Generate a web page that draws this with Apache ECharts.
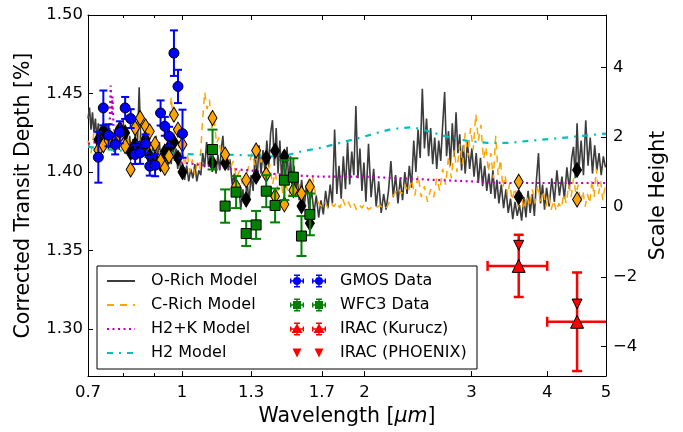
<!DOCTYPE html>
<html>
<head>
<meta charset="utf-8">
<script src="https://cdn.jsdelivr.net/npm/echarts@6/dist/echarts.min.js"></script>
<style>
  html, body { margin: 0; padding: 0; background: #fff; }
  #chart { width: 683px; height: 432px; }
</style>
</head>
<body>
<div id="chart"></div>
<script>
var FONT = 'DejaVu Sans';

// axis ticks
var xTicks = [0.7, 1, 1.3, 1.7, 2, 3, 4, 5];
var xMinorTicks = [0.8, 0.9];
var depthTicks = [1.30, 1.35, 1.40, 1.45, 1.50];
var heightTicks = [-4, -2, 0, 2, 4];

// model spectra [wavelength um, transit depth %]
var oRichModel = [
  [0.700,1.434],[0.704,1.441],[0.708,1.427],[0.712,1.438],[0.716,1.425],[0.720,1.434],[0.724,1.421],[0.728,1.431],[0.732,1.418],[0.736,1.428],
  [0.740,1.415],[0.744,1.426],[0.748,1.417],[0.752,1.430],[0.756,1.419],[0.760,1.428],[0.764,1.415],[0.768,1.424],[0.772,1.413],[0.776,1.427],
  [0.780,1.416],[0.784,1.425],[0.788,1.414],[0.792,1.430],[0.796,1.420],[0.800,1.433],[0.805,1.418],[0.810,1.427],[0.815,1.413],[0.820,1.423],
  [0.825,1.410],[0.830,1.421],[0.835,1.414],[0.840,1.432],[0.845,1.420],[0.850,1.454],[0.855,1.422],[0.860,1.412],[0.865,1.425],[0.870,1.409],
  [0.875,1.421],[0.880,1.407],[0.885,1.419],[0.890,1.405],[0.895,1.417],[0.900,1.409],[0.906,1.423],[0.912,1.406],[0.918,1.419],[0.924,1.403],
  [0.930,1.415],[0.936,1.400],[0.942,1.412],[0.948,1.404],[0.954,1.418],[0.960,1.405],[0.966,1.420],[0.972,1.407],[0.978,1.415],[0.984,1.402],
  [0.990,1.410],[0.996,1.398],[1.002,1.406],[1.010,1.395],[1.018,1.404],[1.026,1.394],[1.034,1.402],[1.042,1.396],[1.050,1.405],[1.058,1.394],
  [1.066,1.401],[1.074,1.398],[1.082,1.412],[1.090,1.403],[1.098,1.419],[1.106,1.404],[1.114,1.412],[1.122,1.400],[1.130,1.409],[1.138,1.399],
  [1.146,1.411],[1.154,1.401],[1.162,1.416],[1.168,1.423],[1.176,1.405],[1.184,1.414],[1.192,1.401],[1.200,1.408],[1.210,1.392],[1.220,1.399],
  [1.230,1.383],[1.240,1.393],[1.250,1.376],[1.260,1.389],[1.270,1.379],[1.280,1.394],[1.290,1.381],[1.300,1.398],[1.310,1.388],[1.320,1.412],
  [1.330,1.396],[1.340,1.417],[1.350,1.399],[1.360,1.414],[1.370,1.401],[1.380,1.420],[1.390,1.403],[1.400,1.425],[1.410,1.433],[1.420,1.404],
  [1.430,1.428],[1.440,1.399],[1.450,1.420],[1.460,1.395],[1.470,1.412],[1.480,1.390],[1.490,1.416],[1.500,1.392],[1.510,1.410],[1.520,1.386],
  [1.530,1.404],[1.540,1.384],[1.550,1.400],[1.560,1.382],[1.575,1.395],[1.590,1.378],[1.605,1.392],[1.620,1.376],[1.635,1.389],[1.650,1.374],
  [1.665,1.385],[1.680,1.371],[1.695,1.382],[1.710,1.373],[1.725,1.388],[1.740,1.377],[1.755,1.392],[1.770,1.380],[1.785,1.427],[1.800,1.386],
  [1.815,1.404],[1.830,1.383],[1.845,1.410],[1.860,1.389],[1.875,1.419],[1.890,1.392],[1.905,1.413],[1.920,1.398],[1.935,1.442],[1.950,1.396],
  [1.965,1.415],[1.980,1.388],[1.995,1.406],[2.010,1.381],[2.030,1.418],[2.050,1.384],[2.070,1.402],[2.090,1.378],[2.110,1.394],[2.130,1.374],
  [2.150,1.386],[2.170,1.376],[2.190,1.388],[2.210,1.407],[2.230,1.384],[2.250,1.398],[2.270,1.380],[2.290,1.396],[2.310,1.382],[2.330,1.400],
  [2.350,1.386],[2.370,1.404],[2.390,1.390],[2.410,1.420],[2.430,1.400],[2.450,1.427],[2.470,1.409],[2.490,1.453],[2.510,1.415],[2.530,1.434],
  [2.550,1.410],[2.570,1.428],[2.590,1.405],[2.610,1.422],[2.630,1.402],[2.650,1.420],[2.670,1.407],[2.690,1.430],[2.710,1.451],[2.730,1.410],
  [2.750,1.426],[2.770,1.404],[2.790,1.431],[2.810,1.410],[2.830,1.438],[2.850,1.412],[2.870,1.424],[2.890,1.401],[2.910,1.417],[2.930,1.399],
  [2.955,1.419],[2.980,1.402],[3.005,1.415],[3.030,1.397],[3.055,1.412],[3.080,1.393],[3.105,1.409],[3.130,1.391],[3.155,1.404],[3.180,1.388],
  [3.205,1.399],[3.230,1.386],[3.255,1.401],[3.280,1.383],[3.305,1.395],[3.330,1.380],[3.360,1.392],[3.390,1.377],[3.420,1.389],[3.450,1.374],
  [3.480,1.383],[3.510,1.370],[3.540,1.381],[3.570,1.372],[3.600,1.379],[3.630,1.369],[3.660,1.384],[3.690,1.371],[3.720,1.388],[3.750,1.374],
  [3.780,1.386],[3.810,1.372],[3.840,1.395],[3.870,1.412],[3.900,1.380],[3.930,1.392],[3.960,1.376],[3.990,1.390],[4.030,1.378],[4.070,1.396],
  [4.110,1.381],[4.150,1.401],[4.190,1.385],[4.230,1.397],[4.270,1.383],[4.310,1.403],[4.350,1.389],[4.390,1.409],[4.420,1.416],[4.450,1.396],
  [4.480,1.431],[4.510,1.401],[4.550,1.420],[4.590,1.398],[4.630,1.433],[4.670,1.404],[4.710,1.422],[4.750,1.399],[4.790,1.417],[4.830,1.401],
  [4.870,1.412],[4.910,1.398],[4.950,1.410],[4.990,1.403]
];

var cRichModel = [
  [0.700,1.420],[0.708,1.412],[0.716,1.425],[0.724,1.416],[0.732,1.428],[0.740,1.418],[0.748,1.424],[0.756,1.414],[0.764,1.426],[0.772,1.418],
  [0.780,1.430],[0.788,1.420],[0.796,1.432],[0.804,1.418],[0.812,1.425],[0.820,1.412],[0.828,1.420],[0.836,1.410],[0.844,1.432],[0.852,1.420],
  [0.860,1.416],[0.868,1.426],[0.876,1.414],[0.884,1.422],[0.892,1.410],[0.900,1.418],[0.910,1.406],[0.920,1.414],[0.930,1.402],[0.940,1.412],
  [0.950,1.425],[0.960,1.448],[0.968,1.430],[0.976,1.418],[0.984,1.426],[0.992,1.410],[1.000,1.418],[1.010,1.404],[1.020,1.412],[1.030,1.400],
  [1.040,1.408],[1.050,1.398],[1.060,1.406],[1.070,1.402],[1.080,1.430],[1.090,1.451],[1.100,1.440],[1.110,1.446],[1.120,1.428],[1.130,1.434],
  [1.140,1.418],[1.150,1.422],[1.160,1.410],[1.170,1.416],[1.180,1.406],[1.190,1.412],[1.200,1.402],[1.215,1.407],[1.230,1.396],[1.245,1.401],
  [1.260,1.390],[1.275,1.396],[1.290,1.405],[1.305,1.412],[1.320,1.404],[1.335,1.416],[1.350,1.406],[1.365,1.411],[1.380,1.398],[1.395,1.405],
  [1.410,1.392],[1.425,1.400],[1.440,1.388],[1.455,1.396],[1.470,1.383],[1.485,1.392],[1.500,1.384],[1.520,1.394],[1.540,1.386],[1.560,1.392],
  [1.580,1.384],[1.600,1.390],[1.620,1.396],[1.640,1.398],[1.660,1.386],[1.680,1.380],[1.700,1.378],[1.720,1.381],[1.740,1.377],[1.760,1.380],
  [1.780,1.378],[1.800,1.381],[1.820,1.377],[1.840,1.383],[1.860,1.378],[1.880,1.381],[1.900,1.377],[1.920,1.380],[1.940,1.376],[1.960,1.379],
  [1.980,1.377],[2.000,1.380],[2.030,1.376],[2.060,1.378],[2.090,1.377],[2.120,1.379],[2.150,1.376],[2.180,1.378],[2.210,1.383],[2.240,1.386],
  [2.270,1.390],[2.300,1.386],[2.330,1.392],[2.360,1.387],[2.390,1.395],[2.420,1.385],[2.450,1.398],[2.480,1.384],[2.510,1.391],[2.540,1.381],
  [2.570,1.389],[2.600,1.384],[2.630,1.396],[2.660,1.388],[2.690,1.402],[2.720,1.392],[2.750,1.410],[2.780,1.396],[2.810,1.414],[2.840,1.400],
  [2.870,1.418],[2.900,1.405],[2.930,1.425],[2.960,1.410],[2.990,1.428],[3.020,1.414],[3.050,1.437],[3.080,1.420],[3.110,1.430],[3.140,1.408],
  [3.170,1.416],[3.200,1.400],[3.230,1.412],[3.260,1.396],[3.290,1.423],[3.320,1.398],[3.350,1.408],[3.380,1.390],[3.410,1.398],[3.440,1.385],
  [3.470,1.393],[3.500,1.382],[3.540,1.390],[3.580,1.378],[3.620,1.387],[3.660,1.376],[3.700,1.385],[3.740,1.378],[3.780,1.389],[3.820,1.380],
  [3.860,1.392],[3.900,1.381],[3.940,1.388],[3.980,1.378],[4.020,1.385],[4.060,1.376],[4.100,1.382],[4.140,1.375],[4.180,1.380],[4.220,1.377],
  [4.260,1.386],[4.300,1.380],[4.340,1.392],[4.380,1.384],[4.420,1.396],[4.460,1.386],[4.500,1.392],[4.540,1.380],[4.580,1.388],[4.620,1.378],
  [4.660,1.386],[4.700,1.380],[4.740,1.395],[4.780,1.384],[4.820,1.402],[4.860,1.386],[4.900,1.394],[4.940,1.382],[4.980,1.390]
];

var h2kModel = [
  [0.700,1.418],[0.720,1.419],[0.740,1.420],[0.755,1.423],[0.760,1.430],[0.763,1.455],[0.766,1.436],[0.768,1.448],[0.771,1.430],
  [0.775,1.424],[0.800,1.420],[0.850,1.415],[0.900,1.411],[0.950,1.408],[1.000,1.406],[1.100,1.404],[1.200,1.402],[1.300,1.401],
  [1.400,1.399],[1.500,1.398],[1.700,1.397],[2.000,1.397],[2.300,1.396],[2.600,1.395],[3.000,1.394],[3.400,1.393],[4.000,1.393],[5.000,1.393]
];

var h2Model = [
  [0.700,1.416],[0.750,1.4145],[0.800,1.4135],[0.850,1.413],[0.900,1.4125],[0.950,1.412],[1.000,1.4115],[1.100,1.411],[1.200,1.411],
  [1.300,1.4105],[1.400,1.410],[1.450,1.410],[1.500,1.411],[1.580,1.4133],[1.700,1.4155],[1.840,1.419],[1.990,1.4224],[2.100,1.425],
  [2.200,1.427],[2.300,1.428],[2.400,1.4285],[2.520,1.4265],[2.720,1.4227],[2.940,1.420],[3.190,1.4185],[3.460,1.4185],[3.760,1.420],
  [4.040,1.421],[4.410,1.4224],[4.790,1.4238],[5.000,1.4245]
];

// observations
var gmosWave = [0.728, 0.742, 0.757, 0.776, 0.790, 0.806, 0.823, 0.837, 0.853, 0.871, 0.885, 0.903, 0.922, 0.937, 0.952, 0.970, 0.985, 1.002];
var gmosDepth = [1.4094, 1.4408, 1.4234, 1.4175, 1.4253, 1.4408, 1.4340, 1.4111, 1.4122, 1.4179, 1.4037, 1.4043, 1.4376, 1.4291, 1.4228, 1.4757, 1.4545, 1.4244];
var gmosErr = [0.0162, 0.0111, 0.0070, 0.0063, 0.0070, 0.0070, 0.0060, 0.0060, 0.0070, 0.0060, 0.0060, 0.0070, 0.0080, 0.0060, 0.0060, 0.0145, 0.0106, 0.0153];

var wfc3Wave = [1.123, 1.178, 1.228, 1.276, 1.325, 1.377, 1.424, 1.475, 1.526, 1.574, 1.625];
var wfc3Depth = [1.4143, 1.3783, 1.3872, 1.3608, 1.3663, 1.3878, 1.3787, 1.3948, 1.3967, 1.3592, 1.3730];
var wfc3Err = [0.0127, 0.0106, 0.0102, 0.0079, 0.0089, 0.0102, 0.0108, 0.0127, 0.0120, 0.0127, 0.0133];

var iracWave = [3.59, 4.48];
var iracLow = [3.19, 4.00];
var iracHigh = [4.00, 5.05];
var iracKurucz = [1.3402, 1.3046];
var iracErr = [0.0198, 0.0314];
var iracPhoenix = [1.3533, 1.3159];

// band-averaged models at the data wavelengths
var binWave = gmosWave.concat(wfc3Wave, iracWave);
var binORich = [1.4206, 1.4265, 1.4200, 1.4215, 1.4275, 1.4250, 1.4122, 1.4175, 1.4150, 1.4210, 1.4100, 1.4080, 1.4050, 1.4130, 1.4160, 1.4190, 1.4090, 1.4000,
  1.4058, 1.4058, 1.3890, 1.3825, 1.3970, 1.4090, 1.4135, 1.4098, 1.3960, 1.3783, 1.3674,
  1.3840, 1.4013];
var binCRich = [1.4140, 1.4170, 1.4200, 1.4190, 1.4230, 1.4165, 1.4016, 1.4280, 1.4344, 1.4291, 1.4259, 1.4179, 1.4069, 1.4026, 1.4100, 1.4365, 1.4270, 1.4175,
  1.4344, 1.4111, 1.3910, 1.3948, 1.4137, 1.3984, 1.3846, 1.3794, 1.3884, 1.3863, 1.3906,
  1.3938, 1.3825];

function zip(xs, ys) {
  return xs.map(function (x, i) { return [x, ys[i]]; });
}

// error bars drawn with a custom series
function errRender(color, width, cap) {
  return function (params, api) {
    var x = api.value(0), y = api.value(1), e = api.value(2);
    var p = api.coord([x, y]);
    var t = api.coord([x, y + e]);
    var b = api.coord([x, y - e]);
    var st = { stroke: color, lineWidth: width, fill: null };
    var kids = [
      { type: 'line', shape: { x1: p[0], y1: t[1], x2: p[0], y2: b[1] }, style: st },
      { type: 'line', shape: { x1: p[0] - cap, y1: t[1], x2: p[0] + cap, y2: t[1] }, style: st },
      { type: 'line', shape: { x1: p[0] - cap, y1: b[1], x2: p[0] + cap, y2: b[1] }, style: st }
    ];
    var lo = api.value(3), hi = api.value(4);
    if (lo > 0 && hi > 0) {
      var l = api.coord([lo, y]), r = api.coord([hi, y]);
      kids.push({ type: 'line', shape: { x1: l[0], y1: p[1], x2: r[0], y2: p[1] }, style: st });
      kids.push({ type: 'line', shape: { x1: l[0], y1: p[1] - cap, x2: l[0], y2: p[1] + cap }, style: st });
      kids.push({ type: 'line', shape: { x1: r[0], y1: p[1] - cap, x2: r[0], y2: p[1] + cap }, style: st });
    }
    return { type: 'group', children: kids };
  };
}

// legend icons: two markers with error bars, like matplotlib numpoints=2
function rectP(x, y, w, h) {
  return 'M' + x + ' ' + y + 'H' + (x + w) + 'V' + (y + h) + 'H' + x + 'Z';
}
function circP(cx, cy, r) {
  return 'M' + (cx - r) + ' ' + cy + 'A' + r + ' ' + r + ' 0 1 1 ' + (cx + r) + ' ' + cy +
    'A' + r + ' ' + r + ' 0 1 1 ' + (cx - r) + ' ' + cy + 'Z';
}
function barsP(cx) {
  return rectP(cx - 0.7, 0.5, 1.4, 13) + rectP(cx - 3, 0.5, 6, 1.4) + rectP(cx - 3, 12.1, 6, 1.4) +
    rectP(cx - 7, 6.3, 14, 1.4) + rectP(cx - 7, 4.5, 1.4, 5) + rectP(cx + 5.6, 4.5, 1.4, 5);
}
function iconP(marker, bars) {
  return 'path://M0 0M36 14' + [7, 29].map(function (cx) {
    return (bars ? barsP(cx) : '') + marker(cx);
  }).join('');
}
var gmosIcon = iconP(function (cx) { return circP(cx, 7, 4); }, true);
var wfc3Icon = iconP(function (cx) { return rectP(cx - 4, 3, 8, 8); }, true);
var kuruczIcon = iconP(function (cx) { return 'M' + cx + ' 1.5L' + (cx + 5.5) + ' 11L' + (cx - 5.5) + ' 11Z'; }, true);
var phoenixIcon = iconP(function (cx) { return 'M' + (cx - 4.5) + ' 2.5L' + (cx + 4.5) + ' 2.5L' + cx + ' 11.5Z'; }, false);

function xAxisDef(pos, ticks, len, labels, line) {
  return {
    type: 'log', logBase: 10, min: 0.7, max: 5, position: pos,
    axisLine: { show: line, onZero: false, lineStyle: { color: '#000', width: 1 } },
    axisTick: { inside: true, length: len, customValues: ticks, lineStyle: { color: '#000' } },
    axisLabel: labels ? {
      customValues: ticks, color: '#000', fontFamily: FONT, fontSize: 16.5, margin: 8,
      formatter: function (v) { return String(parseFloat((+v).toFixed(1))); }
    } : { show: false },
    splitLine: { show: false }, minorTick: { show: false }
  };
}

var lineSeries = function (name, data, color, width, type) {
  return {
    name: name, type: 'line', data: data, symbol: 'none', showSymbol: false, z: 2,
    lineStyle: { color: color, width: width, type: type }, itemStyle: { color: color }
  };
};

var option = {
  animation: false,
  backgroundColor: '#fff',
  textStyle: { fontFamily: FONT },
  grid: { left: 88, right: 77, top: 15, bottom: 55 },
  graphic: [{
    type: 'rect', z: 10,
    shape: { x: 97, y: 266, width: 380, height: 103 },
    style: { fill: '#fff', stroke: '#000', lineWidth: 1 }
  }],
  legend: [{
    z: 20, orient: 'vertical', left: 106, top: 273, padding: 0,
    itemWidth: 28, itemHeight: 14, itemGap: 8,
    itemStyle: { opacity: 0 },
    textStyle: { fontFamily: FONT, fontSize: 16, color: '#000', lineHeight: 16, padding: [0, 0, 0, 11] },
    data: ['O-Rich Model', 'C-Rich Model', 'H2+K Model', 'H2 Model']
  }, {
    z: 20, orient: 'vertical', left: 290, top: 273, padding: 0,
    itemWidth: 36, itemHeight: 14, itemGap: 8,
    itemStyle: { borderWidth: 0 },
    textStyle: { fontFamily: FONT, fontSize: 16, color: '#000', lineHeight: 16, padding: [0, 0, 0, 9] },
    data: [
      { name: 'GMOS Data', icon: gmosIcon },
      { name: 'WFC3 Data', icon: wfc3Icon },
      { name: 'IRAC (Kurucz)', icon: kuruczIcon },
      { name: 'IRAC (PHOENIX)', icon: phoenixIcon }
    ]
  }],
  xAxis: [
    Object.assign(xAxisDef('bottom', xTicks, 5, true, true), {
      name: 'Wavelength [{it|μm}]', nameLocation: 'middle', nameGap: 26,
      nameTextStyle: { fontFamily: FONT, fontSize: 20.5, color: '#000',
        rich: { it: { fontFamily: FONT, fontSize: 20.5, fontStyle: 'italic', color: '#000' } } }
    }),
    xAxisDef('top', xTicks, 5, false, true),
    xAxisDef('bottom', xMinorTicks, 3, false, false),
    xAxisDef('top', xMinorTicks, 3, false, false)
  ],
  yAxis: [{
    type: 'value', min: 1.27, max: 1.50, position: 'left',
    name: 'Corrected Transit Depth [%]', nameLocation: 'middle', nameGap: 54,
    nameTextStyle: { fontFamily: FONT, fontSize: 20.5, color: '#000' },
    axisLine: { show: true, onZero: false, lineStyle: { color: '#000', width: 1 } },
    axisTick: { inside: true, length: 5, customValues: depthTicks, lineStyle: { color: '#000' } },
    axisLabel: { customValues: depthTicks, color: '#000', fontFamily: FONT, fontSize: 16.5, margin: 5,
      formatter: function (v) { return (+v).toFixed(2); } },
    splitLine: { show: false }
  }, {
    type: 'value', min: -4.843, max: 5.5, position: 'right',
    name: 'Scale Height', nameLocation: 'middle', nameGap: 37, nameRotate: 90,
    nameTextStyle: { fontFamily: FONT, fontSize: 20.5, color: '#000' },
    axisLine: { show: true, onZero: false, lineStyle: { color: '#000', width: 1 } },
    axisTick: { inside: true, length: 5, customValues: heightTicks, lineStyle: { color: '#000' } },
    axisLabel: { customValues: heightTicks, color: '#000', fontFamily: FONT, fontSize: 16.5, margin: 7,
      formatter: function (v) { return String(v).replace('-', '\u2212'); } },
    splitLine: { show: false }
  }],
  series: [
    lineSeries('O-Rich Model', oRichModel, '#3c3c3c', 1.6, 'solid'),
    lineSeries('C-Rich Model', cRichModel, '#FFA500', 1.5, [7, 6]),
    lineSeries('H2+K Model', h2kModel, '#BF00BF', 2.2, [2, 3.5]),
    lineSeries('H2 Model', h2Model, '#00BFBF', 2.2, [6, 6, 2, 6]),
    {
      name: 'O-Rich binned', type: 'scatter', z: 3, data: zip(binWave, binORich),
      symbol: 'diamond', symbolSize: [9, 15],
      itemStyle: { color: '#000', borderColor: '#000', borderWidth: 1, opacity: 1 }
    },
    {
      name: 'C-Rich binned', type: 'scatter', z: 3, data: zip(binWave, binCRich),
      symbol: 'diamond', symbolSize: [9, 15],
      itemStyle: { color: '#FFA500', borderColor: '#000', borderWidth: 1, opacity: 1 }
    },
    {
      name: 'GMOS err', type: 'custom', z: 4, clip: true,
      data: gmosWave.map(function (w, i) { return [w, gmosDepth[i], gmosErr[i]]; }),
      encode: { x: 0, y: 1 }, renderItem: errRender('#0000FF', 2, 4)
    },
    {
      name: 'GMOS Data', type: 'scatter', z: 5, data: zip(gmosWave, gmosDepth),
      symbol: 'circle', symbolSize: 10,
      itemStyle: { color: '#0000FF', borderColor: '#000', borderWidth: 1, opacity: 1 }
    },
    {
      name: 'WFC3 err', type: 'custom', z: 4, clip: true,
      data: wfc3Wave.map(function (w, i) { return [w, wfc3Depth[i], wfc3Err[i]]; }),
      encode: { x: 0, y: 1 }, renderItem: errRender('#008000', 2, 5)
    },
    {
      name: 'WFC3 Data', type: 'scatter', z: 5, data: zip(wfc3Wave, wfc3Depth),
      symbol: 'rect', symbolSize: 10,
      itemStyle: { color: '#008000', borderColor: '#000', borderWidth: 1, opacity: 1 }
    },
    {
      name: 'IRAC err', type: 'custom', z: 4, clip: true,
      data: iracWave.map(function (w, i) { return [w, iracKurucz[i], iracErr[i], iracLow[i], iracHigh[i]]; }),
      encode: { x: 0, y: 1 }, renderItem: errRender('#FF0000', 2.5, 5)
    },
    {
      name: 'IRAC (Kurucz)', type: 'scatter', z: 5, data: zip(iracWave, iracKurucz),
      symbol: 'triangle', symbolSize: 13,
      itemStyle: { color: '#FF0000', borderColor: '#000', borderWidth: 1, opacity: 1 }
    },
    {
      name: 'IRAC (PHOENIX)', type: 'scatter', z: 5, data: zip(iracWave, iracPhoenix),
      symbol: 'triangle', symbolSize: 10, symbolRotate: 180,
      itemStyle: { color: '#FF0000', borderColor: '#000', borderWidth: 1, opacity: 1 }
    }
  ]
};

var chart = echarts.init(document.getElementById('chart'), null, { renderer: 'canvas' });
chart.setOption(option);
</script>
</body>
</html>
